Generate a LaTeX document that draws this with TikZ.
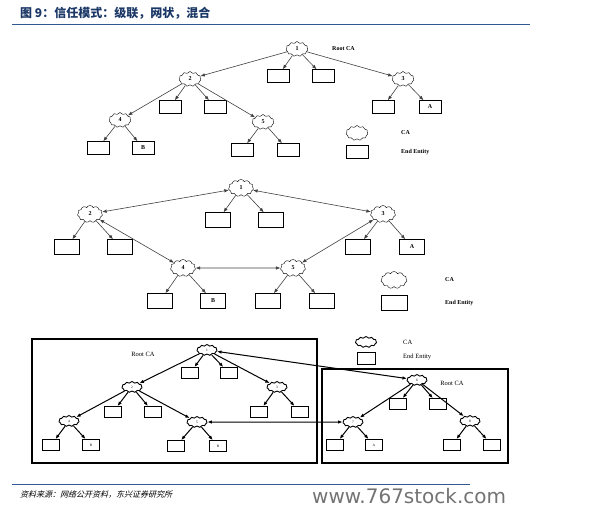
\documentclass[tikz,border=0pt]{standalone}
\usepackage{fontspec}
\setmainfont{Liberation Serif}
\newfontfamily\cjk{Noto Sans CJK SC}
\newfontfamily\cjkit[FakeSlant=0.25]{Noto Sans CJK SC}
\newfontfamily\wmfont{DejaVu Sans}
\usetikzlibrary{arrows.meta,shapes.symbols}
\definecolor{titleblue}{HTML}{1B3766}
\definecolor{ruleblue}{HTML}{2E5A94}

\begin{document}
\begin{tikzpicture}[x=1pt, y=-1pt, >={Latex[length=4.5pt,width=3.5pt]},
    ca/.style={cloud, cloud puffs=11, cloud puff arc=130, draw, inner sep=0pt,
      minimum width=22pt, minimum height=15pt, font=\bfseries\fontsize{6}{6}\selectfont},
    ee/.style={draw, inner sep=0pt, minimum width=22pt, minimum height=13pt,
      font=\bfseries\fontsize{6}{6}\selectfont},
    mca/.style={ca, minimum width=25pt, minimum height=17pt},
    mee/.style={ee, minimum width=25pt, minimum height=15pt},
    sca/.style={cloud, cloud puffs=11, cloud puff arc=120, draw, line width=0.9pt, inner sep=0pt,
      minimum width=20pt, minimum height=11pt, font=\fontsize{3.5}{3.5}\selectfont},
    see/.style={draw, line width=0.9pt, inner sep=0pt, minimum width=17pt, minimum height=11pt,
      font=\fontsize{3.5}{3.5}\selectfont},
    lbl/.style={anchor=west, inner sep=0pt, font=\bfseries\fontsize{6}{7}\selectfont},
    slbl/.style={inner sep=0pt, font=\fontsize{6.5}{7}\selectfont},
    frame/.style={draw, line width=1.1pt, inner sep=0pt},
    tedge/.style={draw=black!75, line width=0.6pt},
    bedge/.style={draw=black, line width=1pt}]
  \useasboundingbox (0,0) rectangle (589,516);

  % heading
  \node[anchor=west, inner sep=0pt, text=titleblue, font=\cjk\bfseries\fontsize{12}{13}\selectfont] (title) at (20,13) {图 9：信任模式：级联，网状，混合};
  \coordinate (ruleA) at (12,25);
  \coordinate (ruleB) at (530,25);
  \draw[ruleblue, line width=1pt] (ruleA) -- (ruleB);

  % cascade
  \node[ca] (c1) at (297,49) {1};
  \node[lbl] (c1lbl) at (332,49) {Root CA};
  \node[ca] (c2) at (190,79) {2};
  \node[ca] (c3) at (403,79) {3};
  \node[ca] (c4) at (120,120) {4};
  \node[ca] (c5) at (263,122) {5};
  \node[ee] (c1a) at (278,76) {};
  \node[ee] (c1b) at (323,76) {};
  \node[ee] (c2a) at (170,107) {};
  \node[ee] (c2b) at (215,107) {};
  \node[ee] (c3a) at (383,107) {};
  \node[ee] (c3b) at (430,107) {A};
  \node[ee] (c4a) at (98,148) {};
  \node[ee] (c4b) at (143,148) {B};
  \node[ee] (c5a) at (242,150) {};
  \node[ee] (c5b) at (288,150) {};
  \foreach \a/\b in {c1/c2, c1/c3, c1/c1a, c1/c1b, c2/c4, c2/c5, c2/c2a, c2/c2b,
      c3/c3a, c3/c3b, c4/c4a, c4/c4b, c5/c5a, c5/c5b}
    \draw[tedge, ->] (\a) -- (\b);
  \node[ca] (ckca) at (357,133) {};
  \node[lbl] (ckcat) at (401,133) {CA};
  \node[ee] (ckee) at (357,152) {};
  \node[lbl] (ckeet) at (401,152) {End Entity};

  % mesh
  \node[mca] (m1) at (241,188) {1};
  \node[mca] (m2) at (90,214) {2};
  \node[mca] (m3) at (383,214) {3};
  \node[mca] (m4) at (183,268) {4};
  \node[mca] (m5) at (293,268) {5};
  \node[mee] (m1a) at (218,220) {};
  \node[mee] (m1b) at (271,220) {};
  \node[mee] (m2a) at (67,247) {};
  \node[mee] (m2b) at (120,247) {};
  \node[mee] (m3a) at (358,247) {};
  \node[mee] (m3b) at (412,247) {A};
  \node[mee] (m4a) at (160,301) {};
  \node[mee] (m4b) at (213,301) {B};
  \node[mee] (m5a) at (268,301) {};
  \node[mee] (m5b) at (322,301) {};
  \foreach \a/\b in {m1/m2, m1/m3, m2/m4, m4/m5, m5/m3}
    \draw[tedge, <->] (\a) -- (\b);
  \foreach \a/\b in {m1/m1a, m1/m1b, m2/m2a, m2/m2b, m3/m3a, m3/m3b,
      m4/m4a, m4/m4b, m5/m5a, m5/m5b}
    \draw[tedge, ->] (\a) -- (\b);
  \node[mca, minimum width=26pt] (mkca) at (394,280) {};
  \node[lbl] (mkcat) at (445,280) {CA};
  \node[mee, minimum width=26pt] (mkee) at (394,303) {};
  \node[lbl] (mkeet) at (445,303) {End Entity};

  % hybrid
  \node[frame, minimum width=285pt, minimum height=124pt] (lbox) at (174.5,401) {};
  \node[frame, minimum width=186pt, minimum height=94pt] (rbox) at (415,416) {};
  \node[slbl] (lroot) at (143,354) {Root CA};
  \node[slbl] (rroot) at (452,383) {Root CA};
  \node[sca] (h1) at (207,350) {1};
  \node[sca] (h2) at (132,387) {2};
  \node[sca] (h3) at (277,387) {3};
  \node[sca] (h4) at (69,421) {4};
  \node[sca] (h5) at (197,422) {5};
  \node[sca] (h6) at (417,380) {6};
  \node[sca] (h7) at (353,422) {7};
  \node[sca] (h8) at (470,421) {8};
  \node[see] (h1a) at (190,373) {};
  \node[see] (h1b) at (229,373) {};
  \node[see] (h2a) at (113,412) {};
  \node[see] (h2b) at (153,412) {};
  \node[see] (h3a) at (259,412) {};
  \node[see] (h3b) at (300,412) {};
  \node[see] (h4a) at (51,445) {};
  \node[see] (h4b) at (91,445) {B};
  \node[see] (h5a) at (176,446) {};
  \node[see] (h5b) at (218,446) {B};
  \node[see] (h6a) at (398,404) {};
  \node[see] (h6b) at (438,404) {};
  \node[see] (h7a) at (335,445) {};
  \node[see] (h7b) at (374,445) {A};
  \node[see] (h8a) at (452,445) {};
  \node[see] (h8b) at (492,445) {};
  \foreach \a/\b in {h1/h2, h1/h3, h1/h1a, h1/h1b, h2/h4, h2/h5, h2/h2a, h2/h2b,
      h3/h3a, h3/h3b, h4/h4a, h4/h4b, h5/h5a, h5/h5b,
      h6/h7, h6/h8, h6/h6a, h6/h6b, h7/h7a, h7/h7b, h8/h8a, h8/h8b}
    \draw[bedge, ->] (\a) -- (\b);
  \draw[bedge, <->] (h1) -- (h6);
  \draw[bedge, <->] (h5) -- (h7);
  \node[sca, minimum width=21pt] (hkca) at (366,342) {};
  \node[slbl, anchor=west] (hkcat) at (403,342) {CA};
  \node[see, minimum width=18pt, minimum height=12pt] (hkee) at (366,358) {};
  \node[slbl, anchor=west] (hkeet) at (403,357) {End Entity};

  % footer
  \coordinate (footA) at (12,484);
  \coordinate (footB) at (470,484);
  \draw[ruleblue, line width=1pt] (footA) -- (footB);
  \node[anchor=west, inner sep=0pt, font=\cjkit\fontsize{8}{9}\selectfont] (source) at (20,495) {资料来源：网络公开资料，东兴证券研究所};
  \node[anchor=west, inner sep=0pt, text=black!55, font=\wmfont\fontsize{20}{22}\selectfont] (mark) at (312,496) {www.767stock.com};
\end{tikzpicture}
\end{document}
